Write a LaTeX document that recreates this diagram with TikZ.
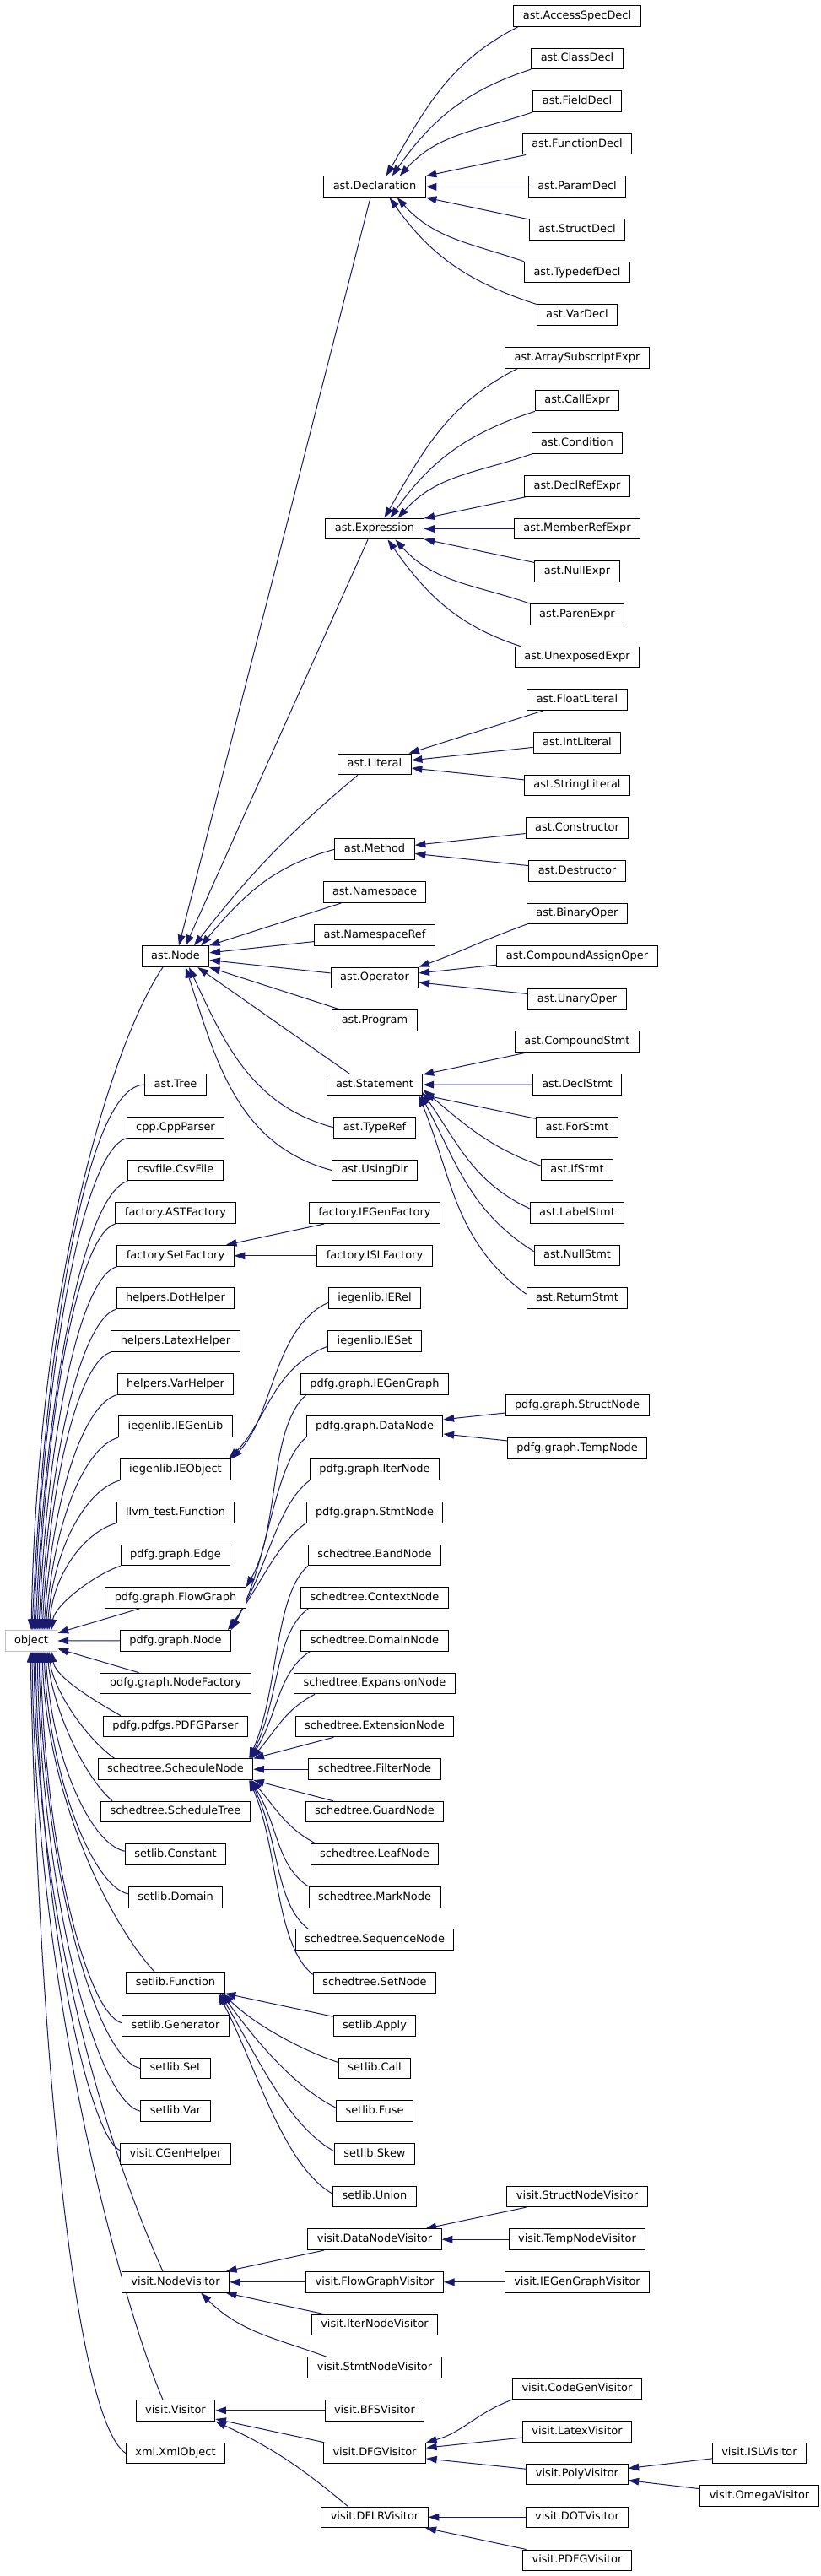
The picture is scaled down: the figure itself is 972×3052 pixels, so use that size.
\documentclass[tikz,border=0pt]{standalone}
\usepackage{fontspec}
\setmainfont{DejaVu Sans}
\usetikzlibrary{arrows.meta,calc}
\pgfdeclarelayer{background}
\pgfsetlayers{background,main}
\definecolor{navy}{HTML}{191970}
\definecolor{objgray}{HTML}{BFBFBF}
\begin{document}
\begin{tikzpicture}[x=0.75pt,y=-0.75pt,
  cls/.style={draw=black, fill=white, line width=0.75pt, inner xsep=8.25pt, inner ysep=0pt,
    minimum height=18.5pt, text height=7.4pt, text depth=2.3pt,
    font=\fontsize{9.7}{11}\selectfont},
  rootcls/.style={cls, draw=objgray},
  inh/.style={draw=navy, line width=0.75pt, {Triangle[length=9.5pt,width=6.5pt]}-}]
\useasboundingbox (0,0) rectangle (972,3052);
% ---- root
\node[rootcls] (object) at (37,1944) {object};
% ---- column 2
\node[cls] (astnode) at (208,1133.2) {ast.Node};
\node[cls] (asttree) at (208,1285.2) {ast.Tree};
\node[cls] (cppparser) at (208,1335.8) {cpp.CppParser};
\node[cls] (csvfile) at (208,1386.5) {csvfile.CsvFile};
\node[cls] (astfactory) at (208,1437.2) {factory.ASTFactory};
\node[cls] (setfactory) at (208,1487.8) {factory.SetFactory};
\node[cls] (dothelper) at (208,1538.3) {helpers.DotHelper};
\node[cls] (latexhelper) at (208,1589.2) {helpers.LatexHelper};
\node[cls] (varhelper) at (208,1639.7) {helpers.VarHelper};
\node[cls] (iegenlib) at (208,1690.3) {iegenlib.IEGenLib};
\node[cls] (ieobject) at (208,1741.2) {iegenlib.IEObject};
\node[cls] (llvmfunc) at (208,1791.8) {llvm\_test.Function};
\node[cls] (pedge) at (208,1842.5) {pdfg.graph.Edge};
\node[cls] (flowgraph) at (208,1893.2) {pdfg.graph.FlowGraph};
\node[cls] (pnode) at (208,1943.8) {pdfg.graph.Node};
\node[cls] (nodefactory) at (208,1994.5) {pdfg.graph.NodeFactory};
\node[cls] (pdfgparser) at (208,2045.5) {pdfg.pdfgs.PDFGParser};
\node[cls] (schednode) at (208,2096.2) {schedtree.ScheduleNode};
\node[cls] (schedtree) at (208,2146.5) {schedtree.ScheduleTree};
\node[cls] (slconstant) at (208,2197.2) {setlib.Constant};
\node[cls] (sldomain) at (208,2247.8) {setlib.Domain};
\node[cls] (slfunction) at (208,2349.3) {setlib.Function};
\node[cls] (slgenerator) at (208,2399.7) {setlib.Generator};
\node[cls] (slset) at (208,2450.5) {setlib.Set};
\node[cls] (slvar) at (208,2501.2) {setlib.Var};
\node[cls] (cgenhelper) at (208,2551.7) {visit.CGenHelper};
\node[cls] (nodevisitor) at (208,2703.8) {visit.NodeVisitor};
\node[cls] (visitor) at (208,2855.8) {visit.Visitor};
\node[cls] (xmlobject) at (208,2906.5) {xml.XmlObject};
% ---- column 3
\node[cls] (decl) at (444,221.3) {ast.Declaration};
\node[cls] (expr) at (444,626.5) {ast.Expression};
\node[cls] (literal) at (444,905.5) {ast.Literal};
\node[cls] (method) at (444,1006.3) {ast.Method};
\node[cls] (namespace) at (444,1057.2) {ast.Namespace};
\node[cls] (nsref) at (444,1107.8) {ast.NamespaceRef};
\node[cls] (operator) at (444,1158.5) {ast.Operator};
\node[cls] (program) at (444,1209.2) {ast.Program};
\node[cls] (statement) at (444,1285.2) {ast.Statement};
\node[cls] (typeref) at (444,1335.8) {ast.TypeRef};
\node[cls] (usingdir) at (444,1386.5) {ast.UsingDir};
\node[cls] (iegenfactory) at (444,1437.2) {factory.IEGenFactory};
\node[cls] (islfactory) at (444,1487.8) {factory.ISLFactory};
\node[cls] (ierel) at (444,1538.3) {iegenlib.IERel};
\node[cls] (ieset) at (444,1589.2) {iegenlib.IESet};
\node[cls] (iegengraph) at (444,1639.7) {pdfg.graph.IEGenGraph};
\node[cls] (datanode) at (444,1690.3) {pdfg.graph.DataNode};
\node[cls] (iternode) at (444,1741.2) {pdfg.graph.IterNode};
\node[cls] (stmtnode) at (444,1791.8) {pdfg.graph.StmtNode};
\node[cls] (bandnode) at (444,1842.5) {schedtree.BandNode};
\node[cls] (contextnode) at (444,1893.2) {schedtree.ContextNode};
\node[cls] (domainnode) at (444,1943.8) {schedtree.DomainNode};
\node[cls] (expansionnode) at (444,1994.5) {schedtree.ExpansionNode};
\node[cls] (extensionnode) at (444,2045.5) {schedtree.ExtensionNode};
\node[cls] (filternode) at (444,2096.2) {schedtree.FilterNode};
\node[cls] (guardnode) at (444,2146.5) {schedtree.GuardNode};
\node[cls] (leafnode) at (444,2197.2) {schedtree.LeafNode};
\node[cls] (marknode) at (444,2247.8) {schedtree.MarkNode};
\node[cls] (seqnode) at (444,2298.3) {schedtree.SequenceNode};
\node[cls] (setnode) at (444,2349.3) {schedtree.SetNode};
\node[cls] (apply) at (444,2399.7) {setlib.Apply};
\node[cls] (call) at (444,2450.5) {setlib.Call};
\node[cls] (fuse) at (444,2501.2) {setlib.Fuse};
\node[cls] (skew) at (444,2551.7) {setlib.Skew};
\node[cls] (slunion) at (444,2602.3) {setlib.Union};
\node[cls] (datanodevis) at (444,2653.2) {visit.DataNodeVisitor};
\node[cls] (flowgraphvis) at (444,2703.8) {visit.FlowGraphVisitor};
\node[cls] (iternodevis) at (444,2754.5) {visit.IterNodeVisitor};
\node[cls] (stmtnodevis) at (444,2805.2) {visit.StmtNodeVisitor};
\node[cls] (bfsvis) at (444,2855.8) {visit.BFSVisitor};
\node[cls] (dfgvis) at (444,2906.5) {visit.DFGVisitor};
\node[cls] (dflrvis) at (444,2982.3) {visit.DFLRVisitor};
% ---- column 4
\node[cls] (accessspec) at (684,18.7) {ast.AccessSpecDecl};
\node[cls] (classdecl) at (684,69.35) {ast.ClassDecl};
\node[cls] (fielddecl) at (684,120) {ast.FieldDecl};
\node[cls] (functiondecl) at (684,170.65) {ast.FunctionDecl};
\node[cls] (paramdecl) at (684,221.3) {ast.ParamDecl};
\node[cls] (structdecl) at (684,271.95) {ast.StructDecl};
\node[cls] (typedefdecl) at (684,322.6) {ast.TypedefDecl};
\node[cls] (vardecl) at (684,373.25) {ast.VarDecl};
\node[cls] (arraysub) at (684,423.9) {ast.ArraySubscriptExpr};
\node[cls] (callexpr) at (684,474.55) {ast.CallExpr};
\node[cls] (condition) at (684,525.2) {ast.Condition};
\node[cls] (declref) at (684,575.85) {ast.DeclRefExpr};
\node[cls] (memberref) at (684,626.5) {ast.MemberRefExpr};
\node[cls] (nullexpr) at (684,677.15) {ast.NullExpr};
\node[cls] (parenexpr) at (684,727.8) {ast.ParenExpr};
\node[cls] (unexposed) at (684,778.45) {ast.UnexposedExpr};
\node[cls] (floatlit) at (684,829.1) {ast.FloatLiteral};
\node[cls] (intlit) at (684,879.75) {ast.IntLiteral};
\node[cls] (stringlit) at (684,930.4) {ast.StringLiteral};
\node[cls] (constructor) at (684,981.05) {ast.Constructor};
\node[cls] (destructor) at (684,1031.7) {ast.Destructor};
\node[cls] (binaryop) at (684,1082.35) {ast.BinaryOper};
\node[cls] (compassign) at (684,1133) {ast.CompoundAssignOper};
\node[cls] (unaryop) at (684,1183.65) {ast.UnaryOper};
\node[cls] (compstmt) at (684,1234.3) {ast.CompoundStmt};
\node[cls] (declstmt) at (684,1284.95) {ast.DeclStmt};
\node[cls] (forstmt) at (684,1335.6) {ast.ForStmt};
\node[cls] (ifstmt) at (684,1386.25) {ast.IfStmt};
\node[cls] (labelstmt) at (684,1436.9) {ast.LabelStmt};
\node[cls] (nullstmt) at (684,1487.55) {ast.NullStmt};
\node[cls] (returnstmt) at (684,1538.2) {ast.ReturnStmt};
\node[cls] (structnode) at (684,1665) {pdfg.graph.StructNode};
\node[cls] (tempnode) at (684,1715.7) {pdfg.graph.TempNode};
\node[cls] (structnodevis) at (684,2602.3) {visit.StructNodeVisitor};
\node[cls] (tempnodevis) at (684,2653.2) {visit.TempNodeVisitor};
\node[cls] (iegengraphvis) at (684,2703.8) {visit.IEGenGraphVisitor};
\node[cls] (codegenvis) at (684,2830.3) {visit.CodeGenVisitor};
\node[cls] (latexvis) at (684,2881.2) {visit.LatexVisitor};
\node[cls] (polyvis) at (684,2931.5) {visit.PolyVisitor};
\node[cls] (dotvis) at (684,2982.3) {visit.DOTVisitor};
\node[cls] (pdfgvis) at (684,3033.3) {visit.PDFGVisitor};
% ---- column 5
\node[cls] (islvis) at (900,2906.3) {visit.ISLVisitor};
\node[cls] (omegavis) at (900,2957) {visit.OmegaVisitor};

\begin{pgfonlayer}{background}
\fill[white] (0,0) rectangle (972,3052);
% ---- object children above
\draw[inh] (object.north) .. controls +(8,-430) and +(-55,80) .. ($(astnode.south)+(-15,0)$);
\draw[inh] ($(object.north)+(1,0)$) .. controls +(16,-355) and +(-67,0) .. (asttree.west);
\draw[inh] ($(object.north)+(3,0)$) .. controls +(13,-327) and +(-50,15) .. (cppparser.south west);
\draw[inh] ($(object.north)+(5,0)$) .. controls +(13,-300) and +(-49,14) .. (csvfile.south west);
\draw[inh] ($(object.north)+(7,0)$) .. controls +(11,-272) and +(-42,12) .. (astfactory.south west);
\draw[inh] ($(object.north)+(9,0)$) .. controls +(11,-244) and +(-42,12) .. (setfactory.south west);
\draw[inh] ($(object.north)+(11,0)$) .. controls +(11,-216) and +(-40,12) .. (dothelper.south west);
\draw[inh] ($(object.north)+(13,0)$) .. controls +(10,-188) and +(-36,11) .. (latexhelper.south west);
\draw[inh] ($(object.north)+(15,0)$) .. controls +(10,-160) and +(-39,11) .. (varhelper.south west);
\draw[inh] ($(object.north)+(17,0)$) .. controls +(10,-132) and +(-39,11) .. (iegenlib.south west);
\draw[inh] ($(object.north)+(19,0)$) .. controls +(8,-100) and +(-39,11) .. (ieobject.south west);
\draw[inh] ($(object.north)+(21,0)$) .. controls +(6,-70) and +(-35,10) .. (llvmfunc.south west);
\draw[inh] ($(object.north)+(24,0)$) .. controls +(4,-30) and +(-30,10) .. (pedge.south west);
\draw[inh] (object) -- (flowgraph);
\draw[inh] (object) -- (pnode);
\draw[inh] (object) -- (nodefactory);
% ---- object children below
\draw[inh] ($(object.south)+(24,0)$) .. controls +(5,30) and +(-35,-20) .. ($(pdfgparser.north west)+(21,0)$);
\draw[inh] ($(object.south)+(21,0)$) .. controls +(5,45) and +(-35,-25) .. ($(schednode.north west)+(20,0)$);
\draw[inh] ($(object.south)+(19,0)$) .. controls +(6,65) and +(-35,-30) .. ($(schedtree.north west)+(14,0)$);
\draw[inh] ($(object.south)+(17,0)$) .. controls +(7,127) and +(-40,-8) .. ($(slconstant.west)+(0,-4)$);
\draw[inh] ($(object.south)+(15,0)$) .. controls +(7,155) and +(-40,-8) .. ($(sldomain.west)+(0,-4)$);
\draw[inh] ($(object.south)+(13,0)$) .. controls +(5,170) and +(-55,-60) .. ($(slfunction.north west)+(34,0)$);
\draw[inh] ($(object.south)+(11,0)$) .. controls +(6,244) and +(-40,-12) .. ($(slgenerator.west)+(0,-3)$);
\draw[inh] ($(object.south)+(9,0)$) .. controls +(6,272) and +(-50,-10) .. (slset.west);
\draw[inh] ($(object.south)+(7,0)$) .. controls +(6,300) and +(-50,-10) .. (slvar.west);
\draw[inh] ($(object.south)+(5,0)$) .. controls +(6,328) and +(-35,-15) .. ($(cgenhelper.west)+(0,-4)$);
\draw[inh] ($(object.south)+(3,0)$) .. controls +(5,366) and +(-45,-100) .. ($(nodevisitor.north)+(-15,0)$);
\draw[inh] ($(object.south)+(1,0)$) .. controls +(5,443) and +(-35,-80) .. ($(visitor.north)+(-15,0)$);
\draw[inh] ($(object.south)+(-1,0)$) .. controls +(10,475) and +(-60,-40) .. (xmlobject.west);
% ---- ast.Node children
\draw[inh] ($(astnode.north)+(4,0)$) -- ($(decl.south)+(-5,0)$);
\draw[inh] ($(astnode.north)+(12,0)$) -- ($(expr.south)+(-8,0)$);
\draw[inh] ($(astnode.north)+(22,0)$) to[out=52,in=220] ($(literal.south)+(-20,0)$);
\draw[inh] ($(astnode.north east)+(-10,0)$) to[out=50,in=195] (method.west);
\draw[inh] (astnode) -- (namespace);
\draw[inh] (astnode) -- (nsref);
\draw[inh] (astnode) -- (operator);
\draw[inh] (astnode) -- (program);
\draw[inh] ($(astnode.south east)+(-14,0)$) -- ($(statement.north west)+(28,0)$);
\draw[inh] ($(astnode.south)+(16,0)$) to[out=-65,in=165] (typeref.west);
\draw[inh] ($(astnode.south)+(12,0)$) to[out=-72,in=165] (usingdir.west);
% ---- ast.Declaration children
\draw[inh] ($(decl.north east)+(-47,0)$) to[out=60,in=207] ($(accessspec.south west)+(6,0)$);
\draw[inh] ($(decl.north east)+(-40,0)$) to[out=55,in=198] (classdecl.south west);
\draw[inh] ($(decl.north east)+(-31,0)$) to[out=48,in=199] (fielddecl.south west);
\draw[inh] (decl) -- (functiondecl);
\draw[inh] (decl) -- (paramdecl);
\draw[inh] (decl) -- (structdecl);
\draw[inh] ($(decl.south east)+(-34,0)$) to[out=-48,in=161] (typedefdecl.north west);
\draw[inh] ($(decl.south east)+(-43,0)$) to[out=-55,in=162] (vardecl.north west);
% ---- ast.Expression children
\draw[inh] ($(expr.north east)+(-47,0)$) to[out=60,in=207] ($(arraysub.south west)+(15,0)$);
\draw[inh] ($(expr.north east)+(-40,0)$) to[out=55,in=198] (callexpr.south west);
\draw[inh] ($(expr.north east)+(-31,0)$) to[out=48,in=199] (condition.south west);
\draw[inh] (expr) -- (declref);
\draw[inh] (expr) -- (memberref);
\draw[inh] (expr) -- (nullexpr);
\draw[inh] ($(expr.south east)+(-34,0)$) to[out=-48,in=161] (parenexpr.north west);
\draw[inh] ($(expr.south east)+(-43,0)$) to[out=-55,in=162] ($(unexposed.north west)+(7,0)$);
% ---- ast.Literal, ast.Method, ast.Operator
\draw[inh] (literal) -- (floatlit);
\draw[inh] (literal) -- (intlit);
\draw[inh] (literal) -- (stringlit);
\draw[inh] (method) -- (constructor);
\draw[inh] (method) -- (destructor);
\draw[inh] (operator.north east) to[out=20,in=200] (binaryop.south west);
\draw[inh] (operator) -- (compassign);
\draw[inh] (operator) -- (unaryop);
% ---- ast.Statement
\draw[inh] (statement) -- (compstmt);
\draw[inh] (statement) -- (declstmt);
\draw[inh] (statement) -- (forstmt);
\draw[inh] ($(statement.south east)+(0,-7)$) to[out=-40,in=160] ($(ifstmt.west)+(0,-5)$);
\draw[inh] ($(statement.south east)+(-1,-4)$) to[out=-55,in=155] ($(labelstmt.west)+(0,-5)$);
\draw[inh] ($(statement.south east)+(-3,-1)$) to[out=-62,in=148] ($(nullstmt.west)+(0,-5)$);
\draw[inh] ($(statement.south east)+(-5,0)$) to[out=-68,in=144] ($(returnstmt.west)+(0,-5)$);
% ---- factory / iegenlib / pdfg
\draw[inh] (setfactory) -- (iegenfactory);
\draw[inh] (setfactory) -- (islfactory);
\draw[inh] (ieobject.north east) .. controls +(50,-50) and +(-65,30) .. ($(ierel.west)+(0,5)$);
\draw[inh] ($(ieobject.north east)+(-3,0)$) .. controls +(45,-45) and +(-65,25) .. ($(ieset.west)+(0,6)$);
\draw[inh] (flowgraph.north east) .. controls +(40,-70) and +(-45,40) .. ($(iegengraph.south west)+(7,0)$);
\draw[inh] (pnode.north east) .. controls +(45,-80) and +(-40,35) .. (datanode.south west);
\draw[inh] ($(pnode.north east)+(-2,0)$) .. controls +(45,-70) and +(-40,30) .. (iternode.south west);
\draw[inh] ($(pnode.north east)+(-4,0)$) .. controls +(40,-55) and +(-35,25) .. (stmtnode.south west);
\draw[inh] (datanode) -- (structnode);
\draw[inh] (datanode) -- (tempnode);
% ---- schedtree.ScheduleNode
\draw[inh] ($(schednode.north east)+(-5,0)$) .. controls +(35,-80) and +(-40,35) .. (bandnode.south west);
\draw[inh] ($(schednode.north east)+(-4,0)$) .. controls +(35,-70) and +(-40,30) .. ($(contextnode.south west)+(9,0)$);
\draw[inh] ($(schednode.north east)+(-3,0)$) .. controls +(33,-55) and +(-38,25) .. ($(domainnode.south west)+(11,0)$);
\draw[inh] ($(schednode.north east)+(-2,0)$) .. controls +(30,-35) and +(-35,18) .. ($(expansionnode.south west)+(25,0)$);
\draw[inh] (schednode.north east) -- (extensionnode);
\draw[inh] (schednode) -- (filternode);
\draw[inh] (schednode.south east) -- (guardnode);
\draw[inh] ($(schednode.south east)+(-2,0)$) .. controls +(30,35) and +(-35,-18) .. ($(leafnode.north west)+(7,0)$);
\draw[inh] ($(schednode.south east)+(-3,0)$) .. controls +(33,55) and +(-38,-25) .. (marknode.north west);
\draw[inh] ($(schednode.south east)+(-4,0)$) .. controls +(35,70) and +(-40,-30) .. ($(seqnode.north west)+(16,0)$);
\draw[inh] ($(schednode.south east)+(-5,0)$) .. controls +(35,80) and +(-45,-35) .. ($(setnode.west)+(0,-10)$);
% ---- setlib.Function
\draw[inh] (slfunction) -- (apply);
\draw[inh] ($(slfunction.south east)+(-2,0)$) .. controls +(35,35) and +(-45,-15) .. ($(call.west)+(0,-7)$);
\draw[inh] ($(slfunction.south east)+(-4,0)$) .. controls +(40,55) and +(-50,-25) .. ($(fuse.west)+(0,-4)$);
\draw[inh] ($(slfunction.south east)+(-6,0)$) .. controls +(42,70) and +(-55,-30) .. ($(skew.west)+(0,-3)$);
\draw[inh] ($(slfunction.south east)+(-8,0)$) .. controls +(45,85) and +(-60,-35) .. ($(slunion.west)+(0,-3)$);
% ---- visitors
\draw[inh] (nodevisitor) -- (datanodevis);
\draw[inh] (nodevisitor) -- (flowgraphvis);
\draw[inh] (nodevisitor) -- (iternodevis);
\draw[inh] ($(nodevisitor.south east)+(-34,0)$) to[out=-45,in=160] ($(stmtnodevis.north west)+(23,0)$);
\draw[inh] (datanodevis) -- (structnodevis);
\draw[inh] (datanodevis) -- (tempnodevis);
\draw[inh] (flowgraphvis) -- (iegengraphvis);
\draw[inh] (visitor) -- (bfsvis);
\draw[inh] (visitor) -- (dfgvis);
\draw[inh] (visitor.south east) to[out=-25,in=140] ($(dflrvis.north west)+(32,0)$);
\draw[inh] (dfgvis.north east) to[out=15,in=200] (codegenvis.south west);
\draw[inh] (dfgvis) -- (latexvis);
\draw[inh] (dfgvis) -- (polyvis);
\draw[inh] (polyvis) -- (islvis);
\draw[inh] (polyvis) -- (omegavis);
\draw[inh] (dflrvis) -- (dotvis);
\draw[inh] (dflrvis) -- (pdfgvis);
\end{pgfonlayer}
\end{tikzpicture}
\end{document}
